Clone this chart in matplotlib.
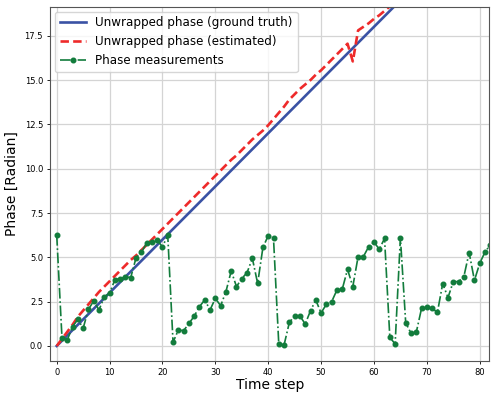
import matplotlib
matplotlib.use("Agg")
import matplotlib.pyplot as plt

time_steps = list(range(0, 83))

measurements = [6.26, 0.43, 0.34, 1.09, 1.50, 1.00, 2.07, 2.54, 2.03, 2.78,
                2.97, 3.74, 3.80, 3.90, 3.86, 4.97, 5.28, 5.79, 5.87, 5.95,
                5.60, 6.24, 0.21, 0.90, 0.86, 1.27, 1.68, 2.22, 2.60, 2.03,
                2.69, 2.27, 3.06, 4.23, 3.35, 3.80, 4.14, 4.94, 3.53, 5.56,
                6.22, 6.07, 0.09, 0.06, 1.33, 1.69, 1.69, 1.24, 1.99, 2.59,
                1.86, 2.36, 2.50, 3.16, 3.20, 4.32, 3.35, 5.04, 5.04, 5.60,
                5.87, 5.45, 6.07, 0.49, 0.11, 6.11, 1.32, 0.71, 0.77, 2.12,
                2.22, 2.12, 1.90, 3.52, 2.73, 3.63, 3.63, 3.91, 5.27, 3.70,
                4.66, 5.30, 5.70]

truth_steps = [0, 70]
truth_values = [0.0, 21.0]

estimate_steps = list(range(0, 65))
estimate_values = [0.00, 0.40, 0.80, 1.20, 1.65, 2.00, 2.35, 2.70, 3.05, 3.35,
                   3.65, 3.95, 4.25, 4.55, 4.85, 5.10, 5.40, 5.70, 6.00, 6.30,
                   6.60, 6.90, 7.20, 7.50, 7.80, 8.10, 8.40, 8.70, 9.00, 9.30,
                   9.60, 9.90, 10.20, 10.50, 10.75, 11.05, 11.35, 11.65, 11.90, 12.15,
                   12.45, 12.80, 13.15, 13.50, 13.90, 14.20, 14.50, 14.75, 15.00, 15.30,
                   15.55, 15.85, 16.15, 16.45, 16.75, 17.05, 16.05, 17.80, 18.00, 18.20,
                   18.45, 18.65, 18.90, 19.15, 19.40]

fig = plt.figure(figsize=(4.91, 3.94), dpi=100)
ax = fig.add_axes([50 / 491, (394 - 360.7) / 394, (489.5 - 50) / 491, (360.7 - 6.8) / 394])

ax.plot(truth_steps, truth_values, color="#3a52a4", lw=1.9, label="Unwrapped phase (ground truth)")
ax.plot(estimate_steps, estimate_values, color="#ee2a2a", lw=1.9, ls=(0, (3.2, 1.6)), label="Unwrapped phase (estimated)")
ax.plot(time_steps, measurements, color="#127c3c", lw=1.2, ls="-.", marker="o", markersize=3.3,
        label="Phase measurements")

ax.set_xlim(-1.27, 81.85)
ax.set_ylim(-0.83, 19.13)
ax.set_xticks(range(0, 81, 10))
ax.set_yticks([0, 2.5, 5, 7.5, 10, 12.5, 15, 17.5])
ax.set_yticklabels(["0.0", "2.5", "5.0", "7.5", "10.0", "12.5", "15.0", "17.5"])
ax.tick_params(labelsize=6, length=2.5, width=0.6, pad=2.5)
ax.grid(True, color="#d4d4d4", lw=0.9)
ax.set_axisbelow(True)
for s in ax.spines.values():
    s.set_color("#555555")
    s.set_linewidth(0.8)

ax.set_xlabel("Time step", fontsize=10, labelpad=1)
ax.set_ylabel("Phase [Radian]", fontsize=10, labelpad=4)

ax.legend(loc="upper left", fontsize=8.6, handlelength=2.2, borderaxespad=0.4, framealpha=0.8)

fig.savefig("out.png", dpi=100)
